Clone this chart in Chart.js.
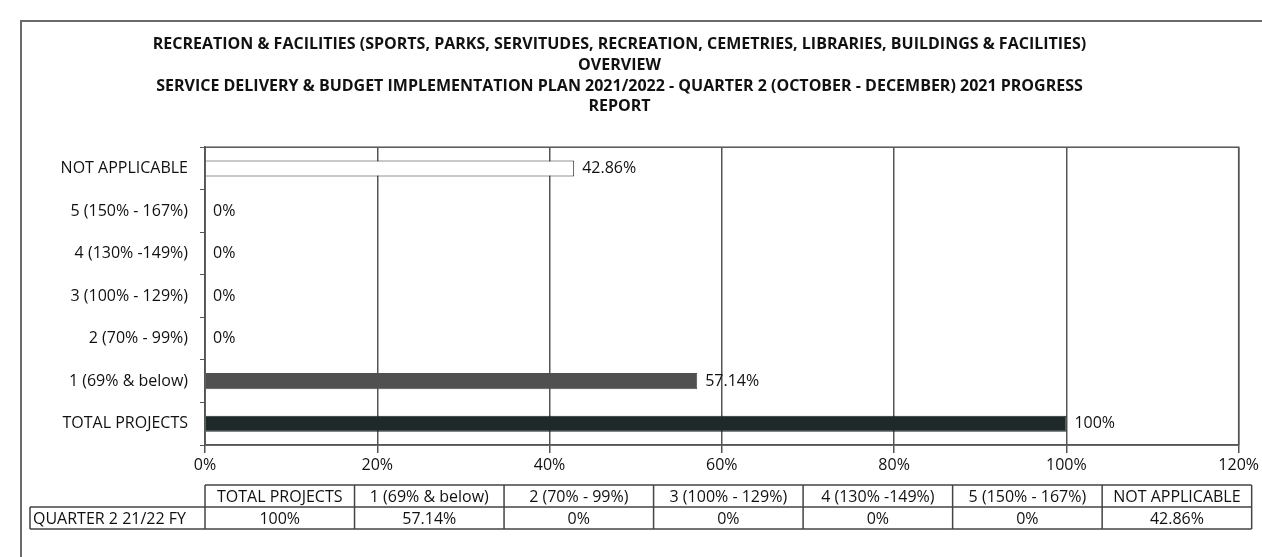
<!DOCTYPE html>
<html>
<head>
<meta charset="utf-8">
<title>Recreation & Facilities - Q2 2021/2022</title>
<script src="https://cdn.jsdelivr.net/npm/chart.js@4/dist/chart.umd.min.js"></script>
<style>
    html, body { margin: 0; padding: 0; background: #fff; overflow: hidden; }
    #wrap { position: relative; width: 1262px; height: 557px; }
    #frame {
        position: absolute; left: 20px; top: 20px;
        width: 1300px; height: 600px;
        border: 2px solid #6a6a6a; box-sizing: border-box;
    }
    #chart { position: absolute; left: 0; top: 0; }
</style>
</head>
<body>
<div id="wrap">
    <div id="frame"></div>
    <canvas id="chart" width="1262" height="557"></canvas>
</div>
<script>
// Categories in table order (bottom of the chart to the top)
const categories = [
    'TOTAL PROJECTS', '1 (69% & below)', '2 (70% - 99%)', '3 (100% - 129%)',
    '4 (130% -149%)', '5 (150% - 167%)', 'NOT APPLICABLE'
];
const seriesName = 'QUARTER 2 21/22 FY';
const quarterValues = [100, 57.14, 0, 0, 0, 0, 42.86];
const barColors = ['#1f2929', '#505050', '#7a7a7a', '#7a7a7a', '#7a7a7a', '#7a7a7a', '#ffffff'];
const barBorders = ['#1f2929', '#505050', '#7a7a7a', '#7a7a7a', '#7a7a7a', '#7a7a7a', '#2a2a2a'];
const xTicks = [0, 20, 40, 60, 80, 100, 120];
const titleLines = [
    'RECREATION & FACILITIES (SPORTS, PARKS, SERVITUDES, RECREATION, CEMETRIES, LIBRARIES, BUILDINGS & FACILITIES)',
    'OVERVIEW',
    'SERVICE DELIVERY & BUDGET IMPLEMENTATION PLAN 2021/2022 - QUARTER 2 (OCTOBER - DECEMBER) 2021 PROGRESS',
    'REPORT'
];

const FONT = '"Open Sans", Lato, sans-serif';
const SIZE = 16;
const INK = '#111';
const LINE = '#555';

function pct(v) {
    return v + '%';
}

// Value labels at the end of each bar
const valueLabels = {
    id: 'valueLabels',
    afterDatasetsDraw(chart) {
        const ctx = chart.ctx;
        const meta = chart.getDatasetMeta(0);
        ctx.save();
        ctx.font = SIZE + 'px ' + FONT;
        ctx.fillStyle = INK;
        ctx.textAlign = 'left';
        ctx.textBaseline = 'middle';
        meta.data.forEach((bar, i) => {
            ctx.fillText(pct(quarterValues[i]), bar.x + 8, bar.y);
        });
        ctx.restore();
    }
};

// Box round the plot area and the data table under the axis
const plotBoxAndTable = {
    id: 'plotBoxAndTable',
    afterDraw(chart) {
        const ctx = chart.ctx;
        const area = chart.chartArea;
        ctx.save();
        ctx.strokeStyle = LINE;
        ctx.lineWidth = 1.5;
        ctx.strokeRect(area.left, area.top, area.right - area.left, area.bottom - area.top);

        const top = area.bottom + 40;
        const rowH = 22;
        const left = area.left;
        const colW = (area.right + 13 - left) / categories.length;
        const right = left + colW * categories.length;
        const headLeft = 30;

        ctx.strokeStyle = '#444';
        ctx.lineWidth = 1.5;
        ctx.beginPath();
        // horizontal rules
        ctx.moveTo(left, top); ctx.lineTo(right, top);
        ctx.moveTo(headLeft, top + rowH); ctx.lineTo(right, top + rowH);
        ctx.moveTo(headLeft, top + rowH * 2); ctx.lineTo(right, top + rowH * 2);
        // vertical rules
        ctx.moveTo(headLeft, top + rowH); ctx.lineTo(headLeft, top + rowH * 2);
        for (let i = 0; i <= categories.length; i++) {
            const x = left + colW * i;
            ctx.moveTo(x, top); ctx.lineTo(x, top + rowH * 2);
        }
        ctx.stroke();

        ctx.font = SIZE + 'px ' + FONT;
        ctx.fillStyle = INK;
        ctx.textBaseline = 'middle';
        ctx.textAlign = 'center';
        categories.forEach((c, i) => {
            const cx = left + colW * i + colW / 2;
            ctx.fillText(c, cx, top + rowH / 2 + 1);
            ctx.fillText(pct(quarterValues[i]), cx, top + rowH * 1.5 + 1);
        });
        ctx.textAlign = 'left';
        ctx.fillText(seriesName, headLeft + 3, top + rowH * 1.5 + 1);
        ctx.restore();
    }
};

new Chart(document.getElementById('chart'), {
    type: 'bar',
    data: {
        labels: categories,
        datasets: [{
            label: seriesName,
            data: quarterValues,
            backgroundColor: barColors,
            borderColor: barBorders,
            borderWidth: 1,
            barPercentage: 0.38,
            categoryPercentage: 1
        }]
    },
    options: {
        indexAxis: 'y',
        responsive: false,
        animation: false,
        layout: {
            padding: { top: 34, left: 0, right: 23, bottom: 72 }
        },
        scales: {
            x: {
                min: 0,
                max: 120,
                afterBuildTicks(scale) {
                    scale.ticks = xTicks.map(v => ({ value: v }));
                },
                afterFit(scale) {
                    scale.height = 40;
                },
                grid: {
                    color: LINE,
                    lineWidth: 1.5,
                    drawTicks: true,
                    tickLength: 8,
                    tickColor: LINE
                },
                border: { display: true, color: LINE, width: 1.5 },
                ticks: {
                    color: INK,
                    padding: 3,
                    font: { family: FONT, size: SIZE },
                    callback: v => pct(v)
                }
            },
            y: {
                reverse: true,
                afterFit(scale) {
                    scale.width = 205;
                },
                grid: {
                    offset: true,
                    drawOnChartArea: false,
                    drawTicks: true,
                    tickLength: 5,
                    tickColor: LINE
                },
                border: { display: true, color: LINE, width: 1.5 },
                ticks: {
                    color: INK,
                    padding: 12,
                    font: { family: FONT, size: SIZE }
                }
            }
        },
        plugins: {
            legend: { display: false },
            tooltip: { enabled: false },
            title: {
                display: true,
                text: titleLines,
                color: INK,
                font: { family: FONT, size: SIZE, weight: 'bold', lineHeight: 1.3 },
                padding: { top: 0, bottom: 30 }
            }
        }
    },
    plugins: [valueLabels, plotBoxAndTable]
});
</script>
</body>
</html>
